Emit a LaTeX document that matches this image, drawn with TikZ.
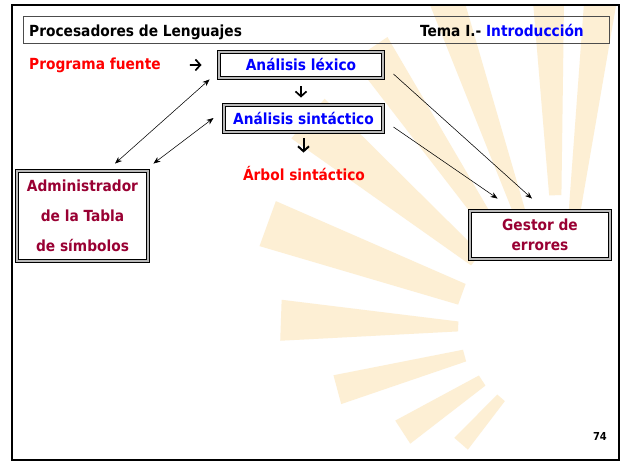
\documentclass[tikz,border=0pt]{standalone}
\usepackage{fontspec}
\setmainfont{DejaVu Sans Condensed}
\usetikzlibrary{arrows.meta,calc}
\definecolor{rayc}{RGB}{253,239,212}
\definecolor{dred}{RGB}{153,0,51}
\definecolor{hblue}{RGB}{0,0,255}
\definecolor{hred}{RGB}{255,0,0}
\newcommand{\sunray}[5]{%
  \fill[rayc] (-#1+#2:#4) -- (-#1-#2:#4) -- (-#1-#3:#5) -- (-#1+#3:#5) -- cycle;}
\tikzset{
  mainfont/.style={font=\bfseries\fontsize{15.3}{18}\selectfont},
  dbox/.style={draw=black, line width=0.9pt, double=gray!55, double distance=2pt,
    fill=white, inner sep=0pt, mainfont},
  lbl/.style={inner sep=0pt, mainfont},
  fatarrow/.style={line width=1.7pt, -{Straight Barb[length=5pt,width=11pt]}},
  thinarrow/.style={line width=0.55pt, -{Stealth[length=7pt,width=5.5pt]}},
  twoarrow/.style={line width=0.55pt, {Stealth[length=7pt,width=5.5pt]}-{Stealth[length=7pt,width=5.5pt]}}
}
\begin{document}
\begin{tikzpicture}[x=1pt,y=-1pt]
\useasboundingbox (0,0) rectangle (621,461);
\fill[white] (0,0) rectangle (621,461);
% watermark rays
\begin{scope}
  \clip (12,5) rectangle (619,460);
  \begin{scope}[shift={(560,330)}]
    \sunray{83}{2.8}{2.8}{100}{340}
    \sunray{92}{2.6}{2.7}{135}{340}
    \sunray{109}{2.8}{2.8}{110}{360}
    \sunray{124}{3.2}{3.5}{110}{340}
    \sunray{140}{4.0}{4.5}{110}{330}
    \sunray{160}{6.0}{4.4}{105}{312}
    \sunray{178}{2.8}{4.2}{102}{280}
    \sunray{195}{3.5}{3.7}{99}{231}
    \sunray{213}{3.7}{4.2}{93}{188}
    \sunray{229}{3.2}{3.4}{90}{151}
  \end{scope}
\end{scope}
% frame and header
\draw[line width=2.2pt] (12,5) rectangle (619,460);
\draw[gray!60!black, line width=0.8pt] (23,16) rectangle (609,43);
\node[lbl, anchor=base west] (title) at (29,36) {Procesadores de Lenguajes};
\node[lbl, anchor=base east] (tema) at (584,36) {Tema I.- \textcolor{hblue}{Introducción}};
% boxes
\node[dbox, minimum width=164pt, minimum height=26pt, text=hblue, text height=11pt, text depth=0pt] (lex) at (301,65) {Análisis léxico};
\node[dbox, minimum width=159pt, minimum height=27pt, text=hblue, text height=11pt, text depth=0pt] (sin) at (303.5,118.5) {Análisis sintáctico};
\node[dbox, minimum width=131pt, minimum height=90pt, text=dred, align=center, font=\bfseries\fontsize{15.3}{30}\selectfont] (admin) at (82.5,216) {Administrador\\de la Tabla\\de símbolos};
\node[dbox, minimum width=140pt, minimum height=48pt, text=dred, align=center, font=\bfseries\fontsize{15.3}{20}\selectfont] (gestor) at (540,235) {Gestor de\\errores};
% labels
\node[lbl, anchor=base west, text=hred] (prog) at (29,69) {Programa fuente};
\node[lbl, anchor=base, text=hred] (arbol) at (304,180) {Árbol sintáctico};
\node[inner sep=0pt, anchor=base east, font=\bfseries\fontsize{11}{13}\selectfont] (num) at (607,440) {74};
% connectors
\draw[fatarrow, shorten <=29pt, shorten >=17pt] (prog.east) -- (lex.west);
\draw[fatarrow, shorten <=8pt, shorten >=7pt] (lex.south) -- (lex.south |- sin.north);
\draw[fatarrow, line width=2pt, shorten <=6pt, shorten >=13pt] (sin.south) -- (sin.south |- arbol.north);
\draw[twoarrow] ([xshift=32.5pt,yshift=7pt]admin.north) -- ([xshift=-9pt,yshift=-1pt]lex.south west);
\draw[twoarrow] ([xshift=5pt,yshift=7pt]admin.north east) -- ([xshift=-10pt,yshift=0.5pt]sin.west);
\draw[thinarrow] ([xshift=10pt,yshift=-9pt]lex.east) -- ([xshift=-8pt,yshift=12pt]gestor.north);
\draw[thinarrow] ([xshift=10pt,yshift=-8.5pt]sin.east) -- ([xshift=28pt,yshift=12pt]gestor.north west);
\end{tikzpicture}
\end{document}
